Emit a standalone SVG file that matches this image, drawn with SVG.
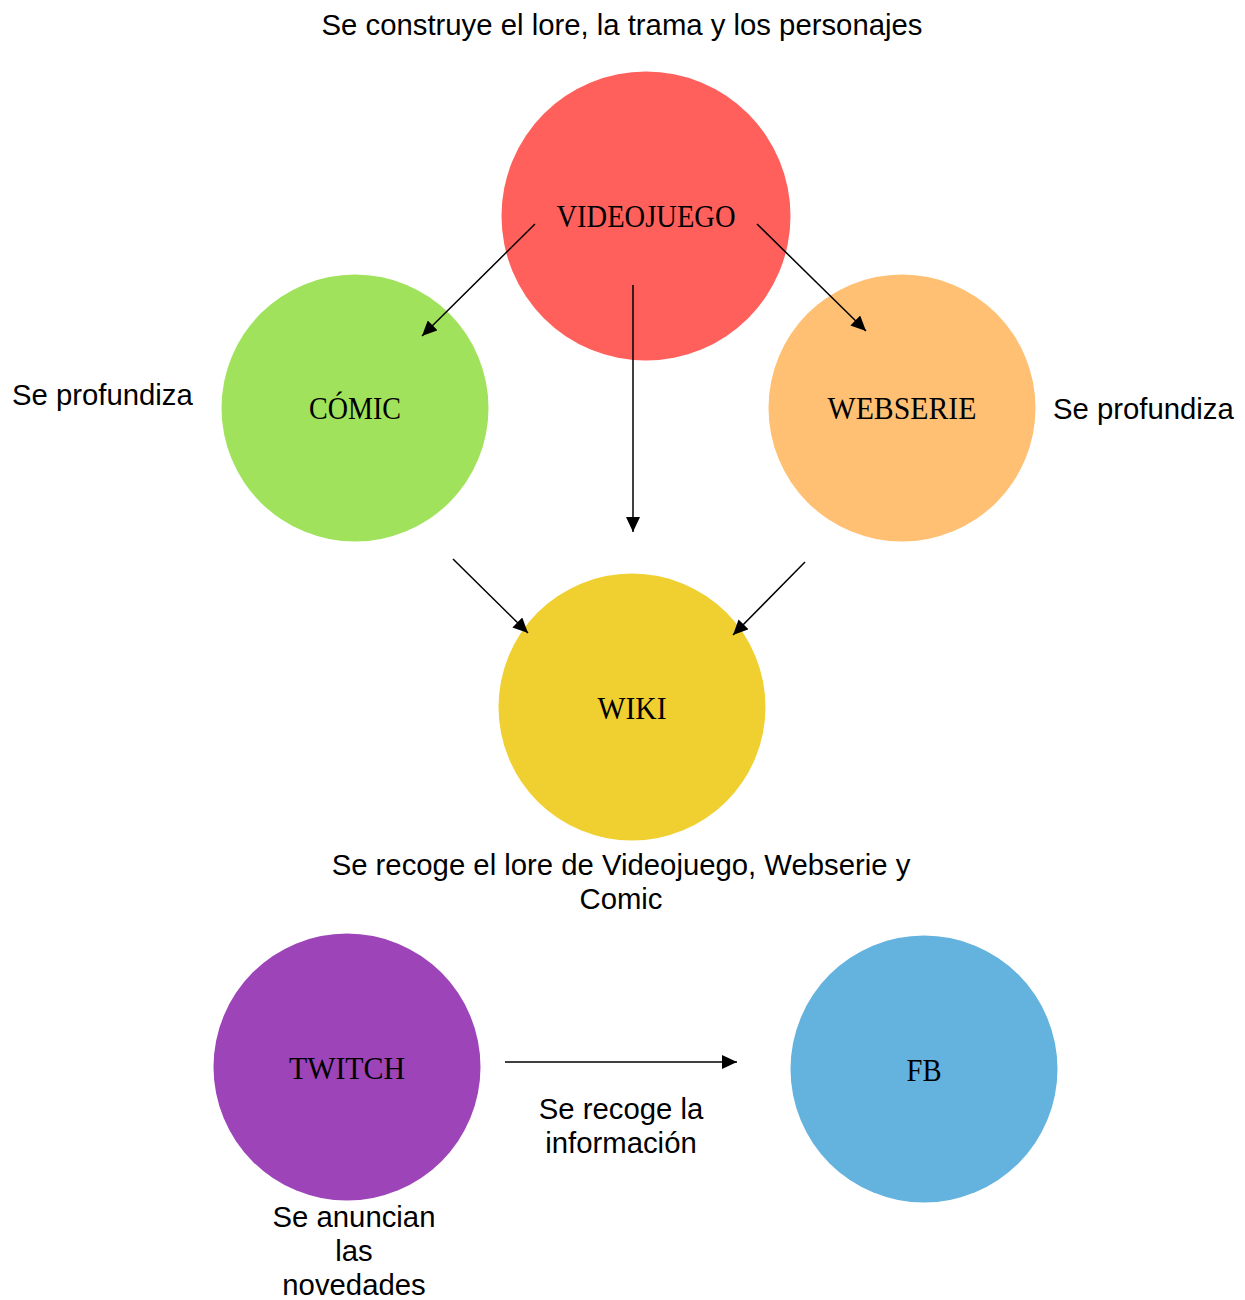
<svg xmlns="http://www.w3.org/2000/svg" width="1245" height="1300" viewBox="0 0 1245 1300">
<style>
.lbl{font-family:"Liberation Serif","DejaVu Serif",serif;font-size:31px;fill:#000;text-anchor:middle}
.note{font-family:"Liberation Sans",Arial,sans-serif;font-size:29.3px;fill:#000}
.c{text-anchor:middle}
.conn line{stroke:#000;stroke-width:1.5;marker-end:url(#ah)}
</style>
<defs>
<marker id="ah" viewBox="0 0 15 14" refX="15" refY="7" markerWidth="15" markerHeight="14" markerUnits="userSpaceOnUse" orient="auto">
<path d="M0,0 L15,7 L0,14 z" fill="#000"/>
</marker>
</defs>
<rect width="1245" height="1300" fill="#fff"/>
<g id="videojuego"><circle cx="646" cy="216" r="144.5" fill="#FF605C"/><text class="lbl" x="646" y="227" textLength="179" lengthAdjust="spacingAndGlyphs">VIDEOJUEGO</text></g>
<g id="comic"><circle cx="355" cy="408" r="133.5" fill="#A0E25C"/><text class="lbl" x="355" y="419" textLength="92" lengthAdjust="spacingAndGlyphs">CÓMIC</text></g>
<g id="webserie"><circle cx="902" cy="408" r="133.5" fill="#FFC074"/><text class="lbl" x="902" y="419" textLength="149" lengthAdjust="spacingAndGlyphs">WEBSERIE</text></g>
<g id="wiki"><circle cx="632" cy="707" r="133.5" fill="#F0D030"/><text class="lbl" x="632" y="719" textLength="69" lengthAdjust="spacingAndGlyphs">WIKI</text></g>
<g id="twitch"><circle cx="347" cy="1067" r="133.5" fill="#9C44B8"/><text class="lbl" x="347" y="1079" textLength="116" lengthAdjust="spacingAndGlyphs">TWITCH</text></g>
<g id="fb"><circle cx="924" cy="1069" r="133.5" fill="#64B2DE"/><text class="lbl" x="924" y="1081" textLength="35" lengthAdjust="spacingAndGlyphs">FB</text></g>
<g class="conn">
<line x1="535" y1="224" x2="422" y2="336"/>
<line x1="757" y1="224" x2="866" y2="331"/>
<line x1="633" y1="285" x2="633" y2="532"/>
<line x1="453" y1="559" x2="528" y2="633"/>
<line x1="805" y1="562" x2="733" y2="635"/>
<line x1="505" y1="1062" x2="737" y2="1062"/>
</g>
<g id="notes">
<text class="note c" x="622" y="35">Se construye el lore, la trama y los personajes</text>
<text class="note" x="12" y="405">Se profundiza</text>
<text class="note" x="1053" y="419">Se profundiza</text>
<text class="note c" x="621" y="875">Se recoge el lore de Videojuego, Webserie y</text>
<text class="note c" x="621" y="909">Comic</text>
<text class="note c" x="621" y="1119">Se recoge la</text>
<text class="note c" x="621" y="1153">información</text>
<text class="note c" x="354" y="1227">Se anuncian</text>
<text class="note c" x="354" y="1261">las</text>
<text class="note c" x="354" y="1295">novedades</text>
</g>
</svg>
